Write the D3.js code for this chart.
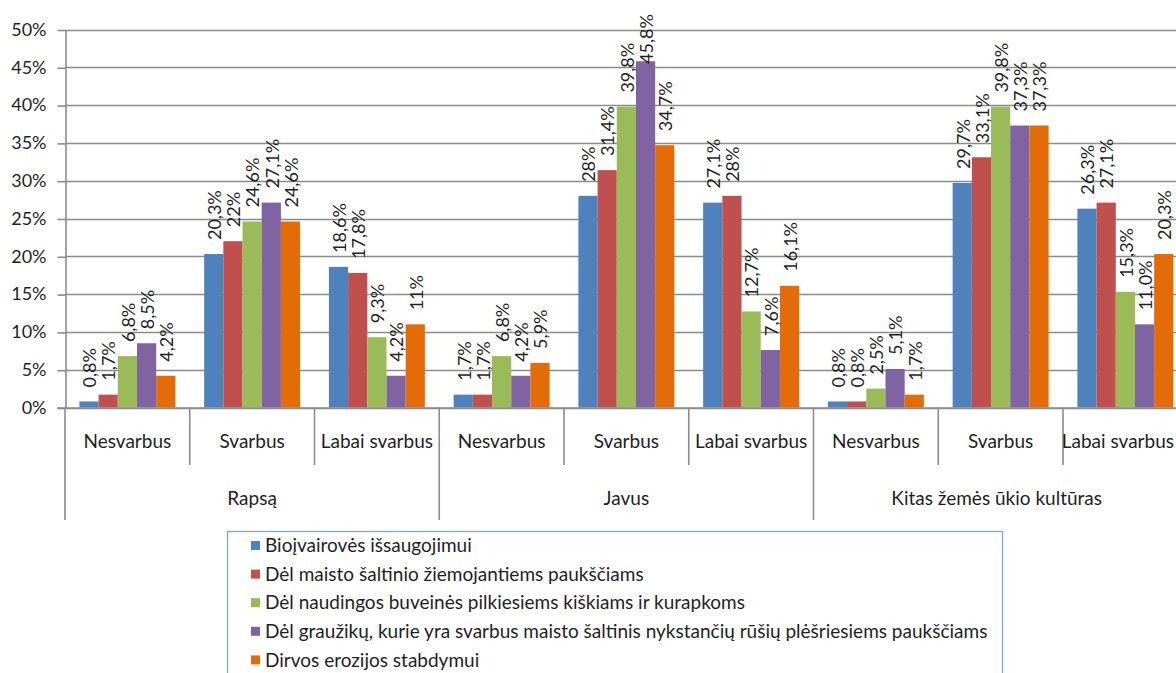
<!DOCTYPE html>
<html>
<head>
<meta charset="utf-8">
<script src="https://cdn.jsdelivr.net/npm/d3@7/dist/d3.min.js"></script>
<style>
  html, body { margin: 0; padding: 0; background: #fff; }
  svg { display: block; font-family: Lato, "Open Sans", sans-serif; }
</style>
</head>
<body>
<svg id="chart" width="1176" height="673"></svg>
<script>
// ---- data ----
const groups = ["Rapsą", "Javus", "Kitas žemės ūkio kultūras"];
const subcats = ["Nesvarbus", "Svarbus", "Labai svarbus"];
const seriesNames = [
  "Bioįvairovės išsaugojimui",
  "Dėl maisto šaltinio žiemojantiems paukščiams",
  "Dėl naudingos buveinės pilkiesiems kiškiams ir kurapkoms",
  "Dėl graužikų, kurie yra svarbus maisto šaltinis nykstančių rūšių plėšriesiems paukščiams",
  "Dirvos erozijos stabdymui"
];
const seriesColors = ["#4F81BD", "#C0504D", "#9BBB59", "#8064A2", "#E36C09"];
// values per category (group × subcategory), one entry per series
const values = [
  [0.8, 1.7, 6.8, 8.5, 4.2],
  [20.3, 22, 24.6, 27.1, 24.6],
  [18.6, 17.8, 9.3, 4.2, 11],
  [1.7, 1.7, 6.8, 4.2, 5.9],
  [28, 31.4, 39.8, 45.8, 34.7],
  [27.1, 28, 12.7, 7.6, 16.1],
  [0.8, 0.8, 2.5, 5.1, 1.7],
  [29.7, 33.1, 39.8, 37.3, 37.3],
  [26.3, 27.1, 15.3, 11.0, 20.3]
];
const labels = [
  ["0,8%", "1,7%", "6,8%", "8,5%", "4,2%"],
  ["20,3%", "22%", "24,6%", "27,1%", "24,6%"],
  ["18,6%", "17,8%", "9,3%", "4,2%", "11%"],
  ["1,7%", "1,7%", "6,8%", "4,2%", "5,9%"],
  ["28%", "31,4%", "39,8%", "45,8%", "34,7%"],
  ["27,1%", "28%", "12,7%", "7,6%", "16,1%"],
  ["0,8%", "0,8%", "2,5%", "5,1%", "1,7%"],
  ["29,7%", "33,1%", "39,8%", "37,3%", "37,3%"],
  ["26,3%", "27,1%", "15,3%", "11,0%", "20,3%"]
];
const yTicks = [0, 5, 10, 15, 20, 25, 30, 35, 40, 45, 50];

// ---- layout ----
const W = 1176, H = 673;
const plotLeft = 65, bandW = 124.75;
const plotRight = plotLeft + bandW * groups.length * subcats.length;
const yTop = 29.5, yBottom = 407.5;
const gridColor = "#8c8c8c";
const textColor = "#1f1f1f";

const svg = d3.select("#chart");

const cats = [];
groups.forEach((g, gi) => subcats.forEach((s, si) => cats.push({ key: gi + "|" + si, g, s, gi, si })));

const x0 = d3.scaleBand().domain(cats.map(c => c.key)).range([plotLeft, plotRight]).padding(0);
const x1 = d3.scaleBand().domain(d3.range(seriesNames.length)).range([0, x0.bandwidth()])
  .paddingInner(0).paddingOuter(0.75);
const y = d3.scaleLinear().domain([0, 50]).range([yBottom, yTop]);

// gridlines
svg.append("g").selectAll("line").data(yTicks).join("line")
  .attr("x1", plotLeft).attr("x2", W)
  .attr("y1", d => Math.round(y(d)) + 0.5).attr("y2", d => Math.round(y(d)) + 0.5)
  .attr("stroke", gridColor).attr("stroke-width", 1.6);

// y axis
const yAxis = d3.axisLeft(y).tickValues(yTicks).tickFormat(d => d + "%").tickSize(8).tickSizeOuter(0).tickPadding(11);
const gy = svg.append("g").attr("transform", `translate(${plotLeft + 0.5},0)`).call(yAxis);
gy.select(".domain").attr("stroke", gridColor).attr("stroke-width", 1.6);
gy.selectAll(".tick line").attr("stroke", gridColor).attr("stroke-width", 1.6)
  .attr("transform", "translate(0,0.5)");
gy.selectAll(".tick text").attr("fill", textColor).attr("font-size", "18px")
  .attr("font-family", "Lato, sans-serif");

// bars
const gBars = svg.append("g");
cats.forEach((c, ci) => {
  const g = gBars.append("g").attr("transform", `translate(${x0(c.key)},0)`);
  g.selectAll("rect").data(values[ci]).join("rect")
    .attr("x", (d, i) => x1(i))
    .attr("width", x1.bandwidth())
    .attr("y", d => y(d))
    .attr("height", d => yBottom - y(d))
    .attr("fill", (d, i) => seriesColors[i]);
});

// axis baseline (0%)
svg.append("line").attr("x1", plotLeft - 8).attr("x2", W)
  .attr("y1", yBottom + 0.5).attr("y2", yBottom + 0.5)
  .attr("stroke", gridColor).attr("stroke-width", 1.6);

// category dividers
const subDivBottom = 465, grpDivBottom = 520;
const bounds = d3.range(cats.length + 1);
svg.append("g").selectAll("line").data(bounds).join("line")
  .attr("x1", i => plotLeft + i * x0.step()).attr("x2", i => plotLeft + i * x0.step())
  .attr("y1", yBottom)
  .attr("y2", i => (i % subcats.length === 0) ? grpDivBottom : subDivBottom)
  .attr("stroke", gridColor).attr("stroke-width", 1.6);

// subcategory labels (kept inside the picture)
svg.append("g").selectAll("text").data(cats).join("text")
  .attr("y", 441).attr("dy", "0.35em")
  .attr("text-anchor", "middle").attr("font-size", "19px").attr("fill", textColor)
  .text(c => c.s)
  .each(function (c) {
    const cx = x0(c.key) + x0.bandwidth() / 2;
    const w = this.getComputedTextLength();
    d3.select(this).attr("x", Math.min(cx, W - 2 - w / 2));
  });

// group labels
const grpLabelMaxRight = 1102;
svg.append("g").selectAll("text").data(groups).join("text")
  .attr("y", 498).attr("dy", "0.35em")
  .attr("text-anchor", "middle").attr("font-size", "19px").attr("fill", textColor)
  .text(d => d)
  .each(function (d, gi) {
    const n = subcats.length;
    const cx = plotLeft + (gi * n + n / 2) * x0.step();
    const w = this.getComputedTextLength();
    d3.select(this).attr("x", Math.min(cx, grpLabelMaxRight - w / 2));
  });

// data labels (rotated)
const gLab = svg.append("g");
cats.forEach((c, ci) => {
  values[ci].forEach((v, i) => {
    const cx = x0(c.key) + x1(i) + x1.bandwidth() / 2 + 1;
    const t = gLab.append("text")
      .attr("font-size", "18px").attr("fill", textColor)
      .attr("dy", "0.35em")
      .text(labels[ci][i]);
    const len = t.node().getComputedTextLength();
    const yEnd = Math.max(y(v) - 14, 14 + len);
    t.attr("transform", `translate(${cx},${yEnd}) rotate(-90)`);
  });
});

// legend
const lg = svg.append("g");
lg.append("rect").attr("x", 227.5).attr("y", 531.5).attr("width", 775).attr("height", 160)
  .attr("fill", "#fff").attr("stroke", "#86a2cf").attr("stroke-width", 1.3);
seriesNames.forEach((name, i) => {
  const cy = 545.5 + i * 28.6;
  lg.append("rect").attr("x", 251).attr("y", cy - 4.5).attr("width", 9).attr("height", 9)
    .attr("fill", seriesColors[i]);
  lg.append("text").attr("x", 265).attr("y", cy).attr("dy", "0.35em")
    .attr("font-size", "19px").attr("fill", textColor).text(name);
});
</script>
</body>
</html>
